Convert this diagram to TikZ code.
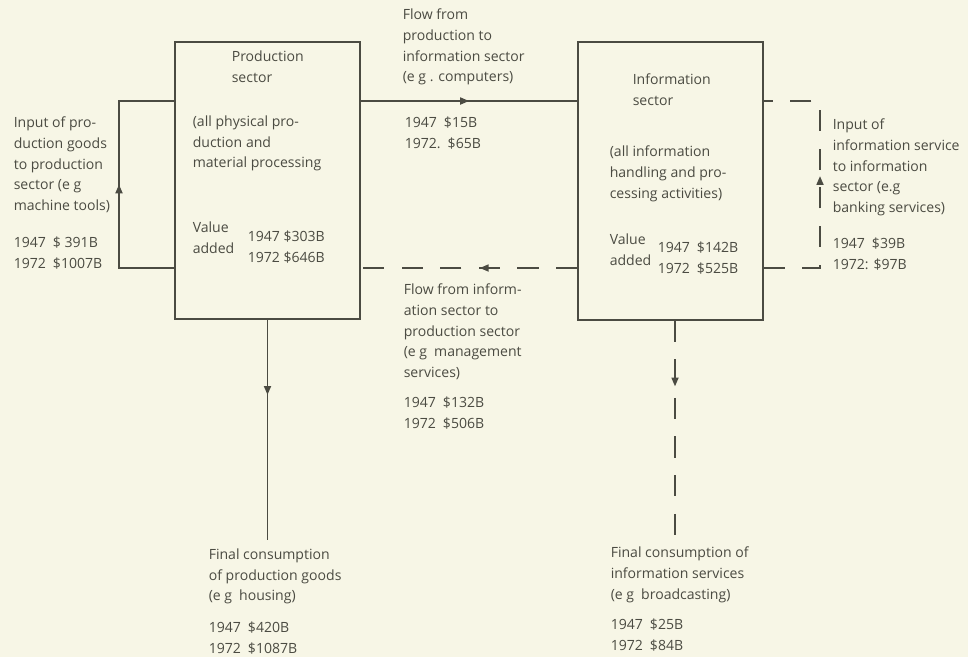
\documentclass[tikz,border=0pt]{standalone}
\usepackage{fontspec}
\setmainfont{Open Sans}
\usetikzlibrary{arrows.meta,decorations.markings}
\definecolor{paper}{RGB}{247,246,230}
\definecolor{ink}{RGB}{75,75,66}

\begin{document}
\begin{tikzpicture}[x=0.02cm, y=-0.02cm, line width=0.9pt, color=ink,
  txt/.style={align=left, anchor=north west, inner sep=0pt, font=\fontsize{8}{11.8}\selectfont},
  sectorbox/.style={draw, minimum width=3.7cm, minimum height=5.55cm, inner sep=0pt},
  dashline/.style={dash pattern=on 12pt off 10pt},
  flow/.style={postaction={decorate}, decoration={markings,
    mark=at position #1 with {\arrow{Triangle[length=5pt,width=4pt]}}}}]
\fill[paper] (0,0) rectangle (968,657);

\node[sectorbox] (prod) at (267.5,180.5){};
\node[sectorbox] (info) at (670.5,181){};

\coordinate (upper) at (0,101);
\coordinate (lower) at (0,268);
\coordinate (loopL) at (119,0);
\coordinate (loopR) at (820,0);
\coordinate (prodEnd) at (267.5,540);
\coordinate (infoEnd) at (675,540);

\draw[flow=0.5] (prod.west |- lower) -- (loopL |- lower) -- (loopL |- upper) -- (prod.west |- upper);
\draw[flow=0.5] (prod.east |- upper) -- (info.west |- upper);
\draw[dashline, flow=0.45] (info.west |- lower) -- (prod.east |- lower);
\draw[dashline, flow=0.53] (info.east |- lower) -- (loopR |- lower) -- (loopR |- upper) -- (info.east |- upper);
\draw[flow=0.34] (prod.south) -- (prodEnd);
\draw[dashline, flow=0.3] (info.south -| infoEnd) -- (infoEnd);

\node[txt] (inL) at (13,116){Input of pro-\\duction goods\\to production\\sector (e g\\machine tools)};
\node[txt] (inLval) at (13,236){1947\enspace\$ 391B\\1972\enspace\$1007B};

\node[txt] (prodT) at (231,50){Production\\sector};
\node[txt] (prodD) at (192,115){(all physical pro-\\duction and\\material processing};
\node[txt] (prodV) at (192,221){Value\\added};
\node[txt] (prodN) at (247,230){1947 \$303B\\1972 \$646B};

\node[txt] (topT) at (402,8){Flow from\\production to\\information sector\\(e g . computers)};
\node[txt] (topN) at (404,116){1947\enspace\$15B\\1972.\enspace\$65B};

\node[txt] (infoT) at (632,73){Information\\sector};
\node[txt] (infoD) at (609,145){(all information\\handling and pro-\\cessing activities)};
\node[txt] (infoV) at (609,233){Value\\added};
\node[txt] (infoN) at (657,241){1947\enspace\$142B\\1972\enspace\$525B};

\node[txt] (inR) at (832,118){Input of\\information service\\to information\\sector (e.g\\banking services)};
\node[txt] (inRval) at (832,237){1947\enspace\$39B\\1972: \$97B};

\node[txt] (midT) at (403,283){Flow from inform-\\ation sector to\\production sector\\(e g\enspace management\\services)};
\node[txt] (midN) at (403,396){1947\enspace\$132B\\1972\enspace\$506B};

\node[txt] (finL) at (208,548){Final consumption\\of production goods\\(e g\enspace housing)};
\node[txt] (finLval) at (208,621){1947\enspace\$420B\\1972\enspace\$1087B};

\node[txt] (finR) at (610,546){Final consumption of\\information services\\(e g\enspace broadcasting)};
\node[txt] (finRval) at (610,618){1947\enspace\$25B\\1972\enspace\$84B};
\end{tikzpicture}
\end{document}
